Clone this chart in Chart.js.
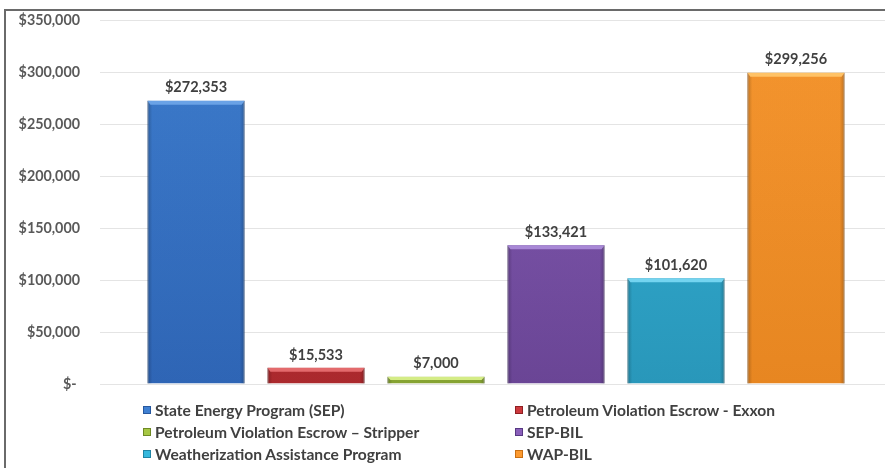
<!DOCTYPE html>
<html>
<head>
<meta charset="utf-8">
<script src="https://cdn.jsdelivr.net/npm/chart.js@4/dist/chart.umd.min.js"></script>
<style>
  html, body { margin: 0; padding: 0; background: #fff; overflow: hidden; }
  #wrap { position: relative; width: 885px; height: 468px; overflow: hidden; }
  #frame { position: absolute; left: 4px; top: 9px; width: 1000px; height: 1000px;
           border-left: 2px solid #6a6a6a; border-top: 2px solid #6a6a6a; }
  #chartBox { position: absolute; left: 0; top: 0; width: 892px; height: 468px; }
  #legend { position: absolute; left: 0; top: 0; width: 885px; height: 468px; pointer-events: none;
            font-family: Lato, "Open Sans", sans-serif; font-weight: bold; font-size: 15.6px; color: #404040; }
  .item { position: absolute; white-space: nowrap; line-height: 18px; }
  .swatch { display: inline-block; width: 6px; height: 6px; margin-right: 4px; vertical-align: 2px;
            border: 1px solid; }
</style>
</head>
<body>
<div id="wrap">
  <div id="frame"></div>
  <div id="chartBox"><canvas id="chart" width="892" height="468"></canvas></div>
  <div id="legend"></div>
</div>
<script>
// program names and amounts
const categories = [
  "State Energy Program (SEP)",
  "Petroleum Violation Escrow - Exxon",
  "Petroleum Violation Escrow \u2013 Stripper",
  "SEP-BIL",
  "Weatherization Assistance Program",
  "WAP-BIL"
];
const amounts = [272353, 15533, 7000, 133421, 101620, 299256];
const barColors = ["#3f80d2", "#cc393d", "#a6c743", "#8a5fba", "#36b8dd", "#fc9a30"];
const bottomColors = ["#3068bb", "#b02a2e", "#8aa834", "#6d479a", "#2a9cc0", "#ee8a22"];
const edgeColors = ["#27589e", "#8f1f22", "#6f8a25", "#573983", "#1f84a4", "#c96f12"];
const topColors = ["#6aa2e6", "#e36a6c", "#d4ec86", "#a888d6", "#74d4f0", "#ffc266"];
const yTicks = [0, 50000, 100000, 150000, 200000, 250000, 300000, 350000];

const money = v => v === 0 ? "$- " : "$" + v.toLocaleString("en-US");

// legend: two columns, three rows
const legendEl = document.getElementById("legend");
const legendCols = [143, 515];
const legendRows = [401, 423, 445];
categories.forEach((name, i) => {
  const div = document.createElement("div");
  div.className = "item";
  div.style.left = legendCols[i % 2] + "px";
  div.style.top = legendRows[Math.floor(i / 2)] + "px";
  const sw = document.createElement("span");
  sw.className = "swatch";
  sw.style.background = barColors[i];
  sw.style.borderColor = edgeColors[i];
  div.appendChild(sw);
  div.appendChild(document.createTextNode(name));
  legendEl.appendChild(div);
});

// value labels above the bars + a light bevel on each bar
const barDecor = {
  id: "barDecor",
  afterDatasetsDraw(chart) {
    const ctx = chart.ctx;
    ctx.save();
    chart.data.datasets.forEach((ds, i) => {
      const meta = chart.getDatasetMeta(i);
      meta.data.forEach((bar, j) => {
        const { x, y, base, width } = bar.getProps(["x", "y", "base", "width"], true);
        const left = x - width / 2;
        const h = base - y;
        // side shading
        const g = ctx.createLinearGradient(left, 0, left + width, 0);
        g.addColorStop(0, "rgba(0,0,0,0.25)");
        g.addColorStop(0.05, "rgba(0,0,0,0.03)");
        g.addColorStop(0.95, "rgba(0,0,0,0.03)");
        g.addColorStop(1, "rgba(0,0,0,0.25)");
        ctx.fillStyle = g;
        ctx.fillRect(left, y, width, h);
        // top highlight
        const th = Math.min(4, h / 2);
        ctx.fillStyle = topColors[i];
        ctx.beginPath();
        ctx.moveTo(left, y);
        ctx.lineTo(left + width, y);
        ctx.lineTo(left + width - 3, y + th);
        ctx.lineTo(left + 3, y + th);
        ctx.closePath();
        ctx.fill();
        // value label
        ctx.fillStyle = "#404040";
        ctx.font = "bold 14.5px Lato, 'Open Sans', sans-serif";
        ctx.textAlign = "center";
        ctx.textBaseline = "middle";
        ctx.fillText(money(ds.data[j]), x, y - 13);
      });
    });
    ctx.restore();
  }
};

new Chart(document.getElementById("chart"), {
  type: "bar",
  data: {
    labels: [""],
    datasets: categories.map((name, i) => ({
      label: name,
      data: [amounts[i]],
      backgroundColor(context) {
        const area = context.chart.chartArea;
        if (!area) return barColors[i];
        const g = context.chart.ctx.createLinearGradient(0, area.top, 0, area.bottom);
        g.addColorStop(0, barColors[i]);
        g.addColorStop(1, bottomColors[i]);
        return g;
      },
      borderColor: edgeColors[i],
      borderWidth: 1,
      categoryPercentage: 0.909,
      barPercentage: 0.81
    }))
  },
  options: {
    responsive: false,
    animation: false,
    layout: { padding: { top: 20, bottom: 84, left: 0, right: 0 } },
    plugins: {
      legend: { display: false },
      tooltip: { enabled: false }
    },
    scales: {
      x: { display: false },
      y: {
        min: 0,
        max: 350000,
        afterFit(scale) { scale.width = 100; },
        afterBuildTicks(scale) { scale.ticks = yTicks.map(v => ({ value: v })); },
        border: { display: false },
        grid: { color: "#e4e4e4", drawTicks: true, tickLength: 18, tickColor: "rgba(0,0,0,0)" },
        ticks: {
          padding: 2,
          color: "#595959",
          font: { family: "Lato, 'Open Sans', sans-serif", size: 14.3, weight: "bold" },
          callback: v => money(v)
        }
      }
    }
  },
  plugins: [barDecor]
});
</script>
</body>
</html>
